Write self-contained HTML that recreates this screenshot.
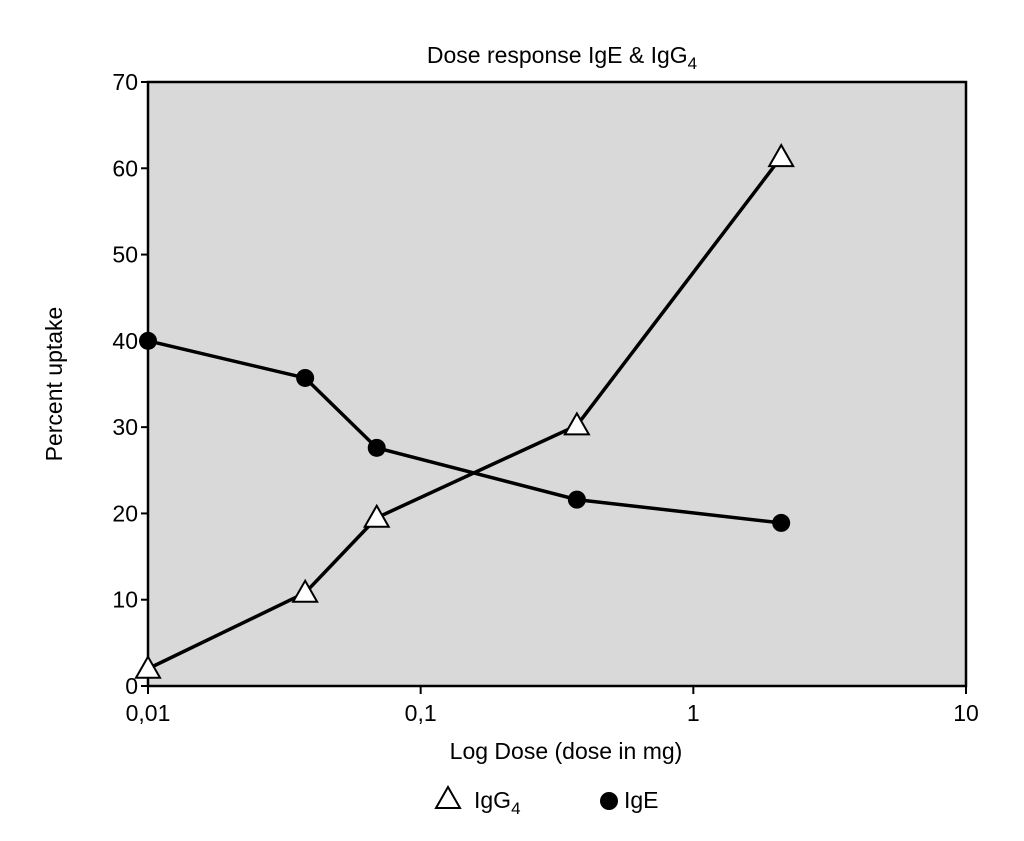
<!DOCTYPE html>
<html><head><meta charset="utf-8"><style>
body{margin:0;background:#fff;}
svg{display:block;font-family:"Liberation Sans",sans-serif;}
</style></head><body>
<svg id="c" width="1024" height="841"></svg>
<script>
const doses = [0.01, 0.0377, 0.069, 0.374, 2.1];
const igeValues = [40, 35.7, 27.6, 21.6, 18.9];
const igg4Values = [2, 10.8, 19.5, 30.2, 61.3];
const yTicks = [0,10,20,30,40,50,60,70];
const xTicks = [0.01,0.1,1,10];
const xTickLabels = ["0,01","0,1","1","10"];

const L=148,R=966,T=82,B=686;
const xs=v=>L+(Math.log10(v)+2)/3*(R-L);
const ys=v=>B-v/70*(B-T);
const svg=document.getElementById('c');
const NS='http://www.w3.org/2000/svg';
function mk(tag,attrs,parent){const e=document.createElementNS(NS,tag);for(const k in attrs)e.setAttribute(k,attrs[k]);(parent||svg).appendChild(e);return e;}

let e=mk('rect',{x:L,y:T,width:R-L,height:B-T,fill:'#d9d9d9',stroke:'#000','stroke-width':2.5});


e=mk('text',{x:562,y:63,'font-size':23,'text-anchor':'middle'});
e.innerHTML='Dose response IgE &amp; IgG<tspan font-size="17" dy="6">4</tspan>';


yTicks.forEach(t=>{
  mk('line',{x1:L-7,x2:L,y1:ys(t),y2:ys(t),stroke:'#000','stroke-width':2});
  const tx=mk('text',{x:L-10,y:ys(t)+8,'font-size':23,'text-anchor':'end'});tx.textContent=t;
  
});
xTicks.forEach((t,i)=>{
  mk('line',{x1:xs(t),x2:xs(t),y1:B,y2:B+8,stroke:'#000','stroke-width':2});
  const tx=mk('text',{x:xs(t),y:B+35,'font-size':23,'text-anchor':'middle'});tx.textContent=xTickLabels[i];
  
});
e=mk('text',{x:566,y:759,'font-size':23,'text-anchor':'middle'});e.textContent='Log Dose (dose in mg)';

e=mk('text',{x:62,y:384,'font-size':23,'text-anchor':'middle',transform:'rotate(-90 62 384)'});e.textContent='Percent uptake';


function line(vals,name){
  const p=mk('polyline',{points:doses.map((d,i)=>xs(d)+','+ys(vals[i])).join(' '),fill:'none',stroke:'#000','stroke-width':3.5});
  
}
line(igeValues,'ige-line');line(igg4Values,'igg4-line');
doses.forEach((d,i)=>{
  const c=mk('circle',{cx:xs(d),cy:ys(igeValues[i]),r:9,fill:'#000'});
  
  const x=xs(d),y=ys(igg4Values[i]);
  const t=mk('polygon',{points:`${x},${y-12} ${x-12},${y+9} ${x+12},${y+9}`,fill:'#fff',stroke:'#000','stroke-width':2});
  
});
let g=mk('g',{});
mk('polygon',{points:'448,787 436,808 460,808',fill:'#fff',stroke:'#000','stroke-width':2},g);
e=mk('text',{x:474,y:808,'font-size':23},g);e.innerHTML='IgG<tspan font-size="17" dy="6">4</tspan>';
g=mk('g',{});
mk('circle',{cx:609,cy:801,r:9,fill:'#000'},g);
e=mk('text',{x:624,y:808,'font-size':23},g);e.textContent='IgE';
</script>
</body></html>
